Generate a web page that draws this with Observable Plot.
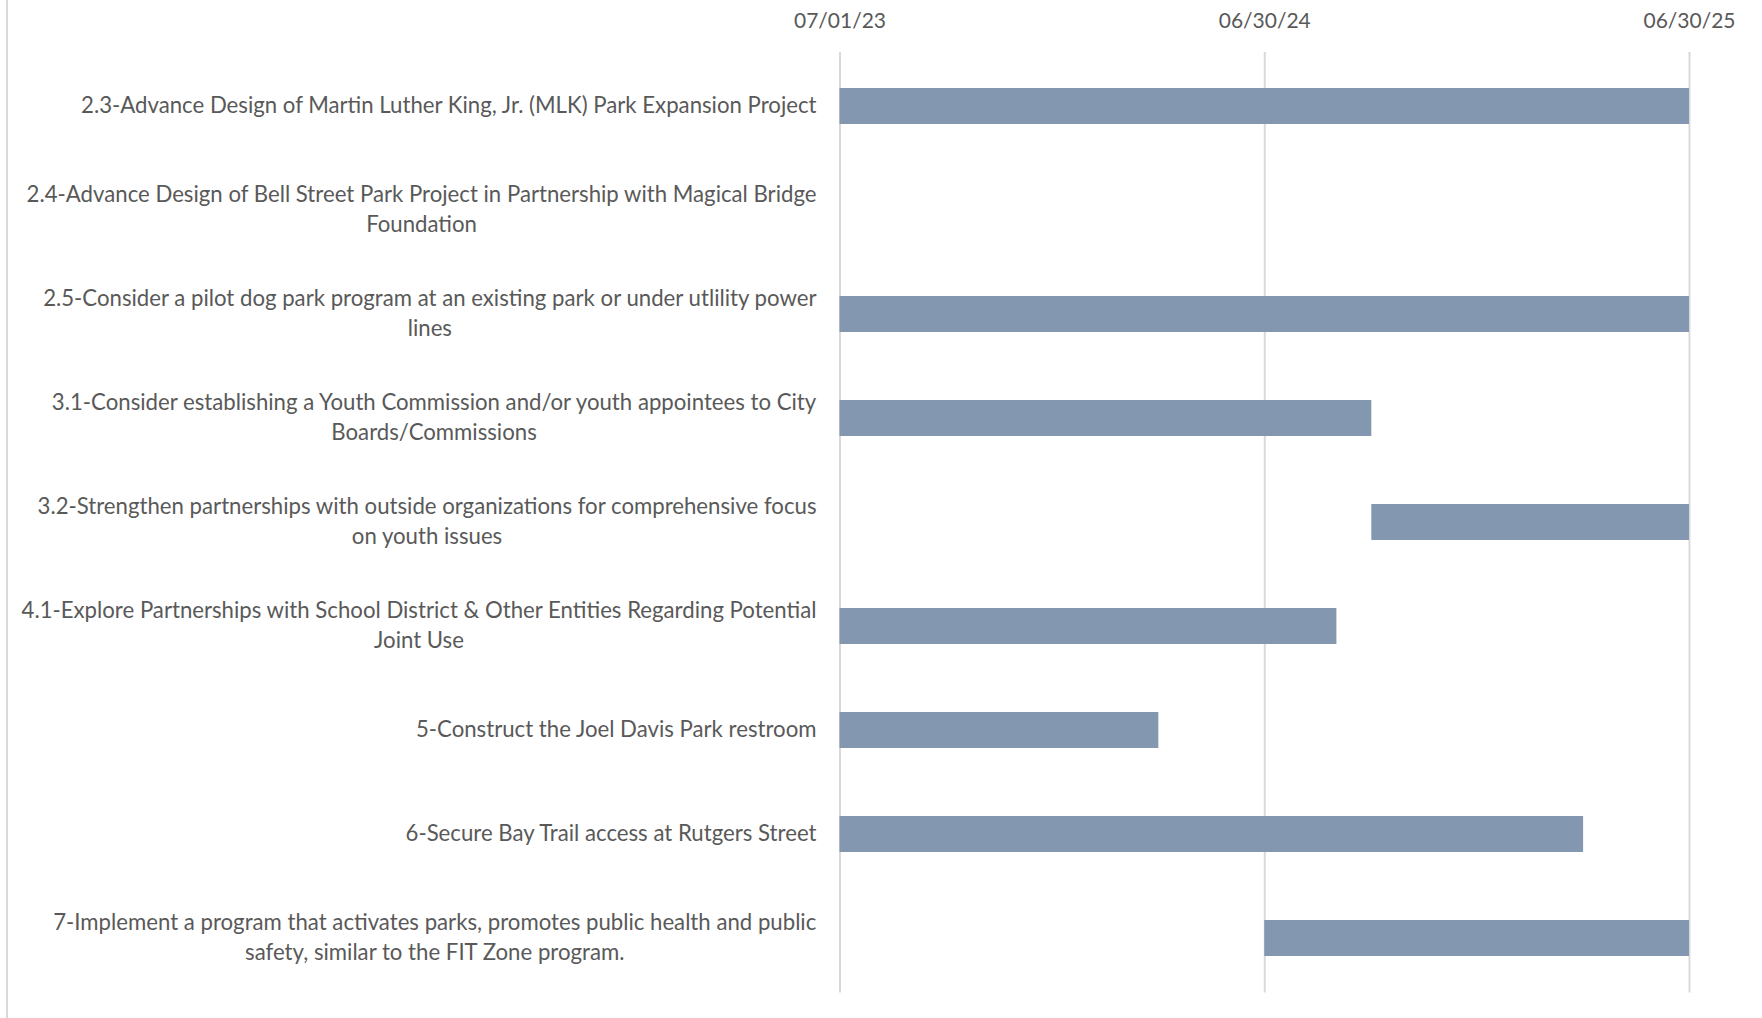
<!DOCTYPE html>
<html>
<head>
<meta charset="utf-8">
<script src="https://cdn.jsdelivr.net/npm/d3@7"></script>
<script src="https://cdn.jsdelivr.net/npm/@observablehq/plot@0.6"></script>
<style>
  html, body { margin: 0; padding: 0; background: #ffffff; }
  #chart { position: relative; width: 1762px; height: 1018px; overflow: hidden; }
  #border { position: absolute; left: 6px; top: 0; width: 2px; height: 1018px; background: #d9d9d9; }
  #chart svg { position: absolute; left: 0; top: 0; }
</style>
</head>
<body>
<div id="chart"><div id="border"></div></div>
<script>
// ---- data ----
const tasks = [
  "2.3-Advance Design of Martin Luther King, Jr. (MLK) Park Expansion Project",
  "2.4-Advance Design of Bell Street Park Project in Partnership with Magical Bridge\nFoundation",
  "2.5-Consider a pilot dog park program at an existing park or under utlility power\nlines",
  "3.1-Consider establishing a Youth Commission and/or youth appointees to City\nBoards/Commissions",
  "3.2-Strengthen partnerships with outside organizations for comprehensive focus\non youth issues",
  "4.1-Explore Partnerships with School District & Other Entities Regarding Potential\nJoint Use",
  "5-Construct the Joel Davis Park restroom",
  "6-Secure Bay Trail access at Rutgers Street",
  "7-Implement a program that activates parks, promotes public health and public\nsafety, similar to the FIT Zone program."
];
const startDates = [
  "2023-07-01", null, "2023-07-01", "2023-07-01", "2024-09-30",
  "2023-07-01", "2023-07-01", "2023-07-01", "2024-06-30"
];
const endDates = [
  "2025-06-30", null, "2025-06-30", "2024-09-30", "2025-06-30",
  "2024-08-31", "2024-03-31", "2025-03-31", "2025-06-30"
];
const tickDates = ["2023-07-01", "2024-06-30", "2025-06-30"];
const tickLabels = ["07/01/23", "06/30/24", "06/30/25"];

// ---- build ----
const parse = d3.utcParse("%Y-%m-%d");
const ticks = tickDates.map(parse);
const rows = tasks.map((t, i) => ({
  task: t,
  start: startDates[i] ? parse(startDates[i]) : null,
  end: endDates[i] ? parse(endDates[i]) : null
})).filter(d => d.start && d.end);

const FONT = "Lato, 'Noto Sans', sans-serif";
const LABEL_GAP = 23.5;

const plot = Plot.plot({
  width: 1762,
  height: 1018,
  marginLeft: 839.5,
  marginRight: 73,
  marginTop: 52,
  marginBottom: 25.5,
  style: { fontFamily: FONT, color: "#595959", background: "transparent", overflow: "visible" },
  x: { type: "utc", domain: [ticks[0], ticks[2]] },
  y: { domain: tasks, paddingInner: 0.65, paddingOuter: 0.325, align: 0.5, label: null },
  marks: [
    Plot.gridX(ticks, { stroke: "#d9d9d9", strokeOpacity: 1, strokeWidth: 2 }),
    Plot.barX(rows, { x1: "start", x2: "end", y: "task", fill: "#8497b0" }),
    Plot.axisX(ticks, {
      anchor: "top", tickSize: 0, tickPadding: 25, fontSize: 21, fill: "#595959", label: null,
      tickFormat: d => tickLabels[ticks.findIndex(t => +t === +d)]
    }),
    Plot.axisY({
      anchor: "left", tickSize: 0, tickPadding: LABEL_GAP, fontSize: 22.2, label: null,
      textAnchor: "middle", lineHeight: 1.32, dy: -3, fill: "#595959"
    })
  ]
});

document.getElementById("chart").appendChild(plot);

// center multi-line labels inside their block, block right-aligned to the gap
plot.querySelectorAll('g[aria-label="y-axis tick label"] text').forEach(t => {
  const w = t.getBBox().width;
  const tr = t.getAttribute("transform") || "";
  t.setAttribute("transform", tr + ` translate(${-w / 2},0)`);
});
</script>
</body>
</html>
